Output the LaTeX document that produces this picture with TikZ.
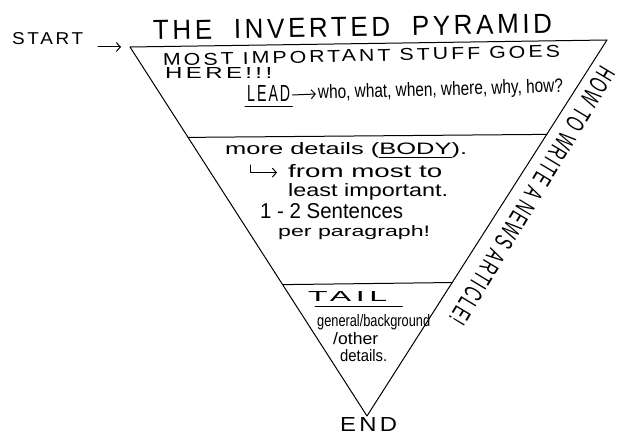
\documentclass[tikz,border=0pt]{standalone}
\usepackage{fontspec}
\usepackage{graphicx}
\setmainfont{Liberation Sans}
\newfontfamily\capsfont[LetterSpace=14]{Liberation Sans}
\usetikzlibrary{arrows.meta,calc}
\newcommand{\fitw}[3]{\resizebox{#1pt}{#2pt}{#3}}
\begin{document}
\begin{tikzpicture}[x=1pt,y=-1pt,
  pen/.style={line width=1pt,line cap=round,line join=round},
  barb/.style={pen,-{Straight Barb[length=4pt,width=9pt]}},
  txt/.style={inner sep=0pt,anchor=base west}]
\useasboundingbox (0,0) rectangle (625,438);
\fill[white] (0,0) rectangle (625,438);
% pyramid
\coordinate (TL) at (130,47);
\coordinate (TR) at (607,40);
\coordinate (AP) at (367,416);
\coordinate (d1l) at ($(TL)!0.245!(AP)$);
\coordinate (d1r) at ($(TR)!0.251!(AP)$);
\coordinate (d2l) at ($(TL)!0.644!(AP)$);
\coordinate (d2r) at ($(TR)!0.645!(AP)$);
\draw[pen] (TL) -- (TR) -- (AP) -- cycle;
\draw[pen] (d1l) -- (d1r);
\draw[pen] (d2l) -- (d2r);
% title and start/end
\node[txt,rotate=1] (title) at (153,40) {\fitw{399}{19}{\capsfont THE\ \ INVERTED\ \ PYRAMID}};
\node[txt] (start) at (12,45) {\fitw{71}{12}{\capsfont START}};
\coordinate (sa1) at (98,47);
\coordinate (sa2) at (121,47);
\draw[barb] (sa1) -- (sa2);
\node[txt] (endn) at (340,432) {\fitw{57}{14}{\capsfont END}};
% lead section
\node[txt,rotate=1.3] (most) at (163,66) {\fitw{397}{12}{\capsfont MOST\ IMPORTANT\ STUFF\ GOES}};
\node[txt] (here) at (165,79) {\fitw{107}{11}{\capsfont HERE!!!}};
\node[txt] (lead) at (247,102) {\fitw{43}{16}{\capsfont LEAD}};
\draw[pen] ([xshift=-2pt,yshift=-5pt]lead.base west) -- ([xshift=2pt,yshift=-5pt]lead.base east);
\node[txt,rotate=1.6] (who) at (318,99) {\fitw{245}{14}{who, what, when, where, why, how?}};
\draw[barb] ([xshift=2pt,yshift=-1pt]lead.east) -- ([xshift=-2pt]who.west);
% body section
\node[txt] (more) at (225,155) {\fitw{242}{12}{more details (\underline{BODY}).}};
\node[txt] (from) at (288,178) {\fitw{154}{13}{from most to}};
\coordinate (hk) at (250,165);
\draw[barb] (hk) |- ([xshift=-11pt,yshift=-1pt]from.west);
\node[txt] (least) at (288,197) {\fitw{160}{13}{least important.}};
\node[txt] (sent) at (260,219) {\fitw{143}{15}{1 - 2 Sentences}};
\node[txt] (para) at (278,237) {\fitw{152}{11}{per paragraph!}};
% tail section
\node[txt] (tail) at (308,302) {\fitw{79}{10}{\capsfont TAIL}};
\draw[pen] ([xshift=7pt,yshift=-5pt]tail.base west) -- ([xshift=15pt,yshift=-5pt]tail.base east);
\node[txt] (gen) at (317,327) {\fitw{113}{12}{general/background}};
\node[txt] (oth) at (333,345) {\fitw{45}{12}{/other}};
\node[txt] (det) at (340,362) {\fitw{47}{12}{details.}};
% side note
\node[inner sep=0pt,rotate=-121] (side) at (532,196) {\fitw{296}{18}{\capsfont HOW TO WRITE A NEWS ARTICLE!}};
\end{tikzpicture}
\end{document}
